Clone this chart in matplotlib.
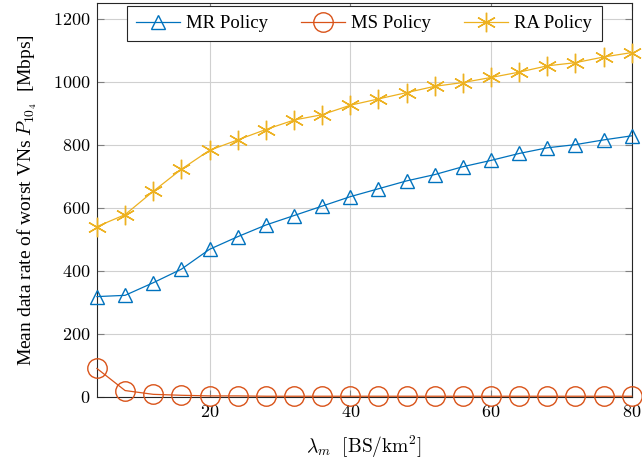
import numpy as np
import matplotlib.pyplot as plt
from matplotlib.ticker import FuncFormatter

plt.rcParams['font.family'] = ['Liberation Serif', 'DejaVu Serif']
plt.rcParams['mathtext.fontset'] = 'cm'

# data
lam = [4, 8, 12, 16, 20, 24, 28, 32, 36, 40, 44, 48, 52, 56, 60, 64, 68, 72, 76, 80]
mr = [318, 322, 362, 405, 468, 508, 545, 575, 605, 635, 660, 685, 705, 730, 750, 772, 790, 800, 815, 828]
ms = [90, 20, 8, 5, 3, 3, 2, 2, 2, 2, 2, 2, 2, 2, 2, 2, 2, 2, 2, 2]
ra = [540, 578, 652, 722, 782, 815, 848, 878, 895, 925, 945, 965, 985, 997, 1013, 1030, 1050, 1060, 1078, 1092]

C_MR = '#0072BD'
C_MS = '#D95319'
C_RA = '#EDB120'

fig = plt.figure(figsize=(6.42, 4.62), dpi=100)
ax = fig.add_axes([0.151, 0.141, 0.833, 0.853])

ax.plot(lam, mr, color=C_MR, lw=0.9, marker='^', ms=10, mfc='none', mew=1.0, label='MR Policy', clip_on=False, zorder=3)
ax.plot(lam, ms, color=C_MS, lw=0.9, marker='o', ms=14, mfc='none', mew=1.0, label='MS Policy', clip_on=False, zorder=3)
ax.plot(lam, ra, color=C_RA, lw=0.9, marker=(6, 2, 0), ms=14, mfc='none', mew=1.0, label='RA Policy', clip_on=False, zorder=3)

ax.set_xlim(4, 80)
ax.set_ylim(0, 1250)
ax.set_xticks([20, 40, 60, 80])
ax.set_yticks(np.arange(0, 1201, 200))
fmt = FuncFormatter(lambda v, p: r'$%d$' % v)
ax.xaxis.set_major_formatter(fmt)
ax.yaxis.set_major_formatter(fmt)
ax.tick_params(direction='in', length=5, color='#808080', labelsize=13, top=True, right=True, pad=5)
ax.grid(True, color='#d0d0d0', lw=0.8)
ax.set_axisbelow(True)
for s in ax.spines.values():
    s.set_linewidth(0.8)
    s.set_color('#262626')

ax.set_xlabel(r'$\lambda_m\ \ [\mathrm{BS/km}^2]$', fontsize=14, labelpad=9)
ax.set_ylabel(r'Mean data rate of worst VNs $P_{10_4}$  [Mbps]', fontsize=14, labelpad=10)

leg = ax.legend(loc='upper center', ncol=3, fontsize=13.5, frameon=True, fancybox=False,
                edgecolor='#262626', framealpha=1, borderaxespad=0.15, handlelength=2.35,
                handletextpad=0.32, columnspacing=1.76, borderpad=0.5,
                bbox_to_anchor=(0.5, 1.0))
leg.get_frame().set_linewidth(0.8)

fig.savefig('out.png', dpi=100)
